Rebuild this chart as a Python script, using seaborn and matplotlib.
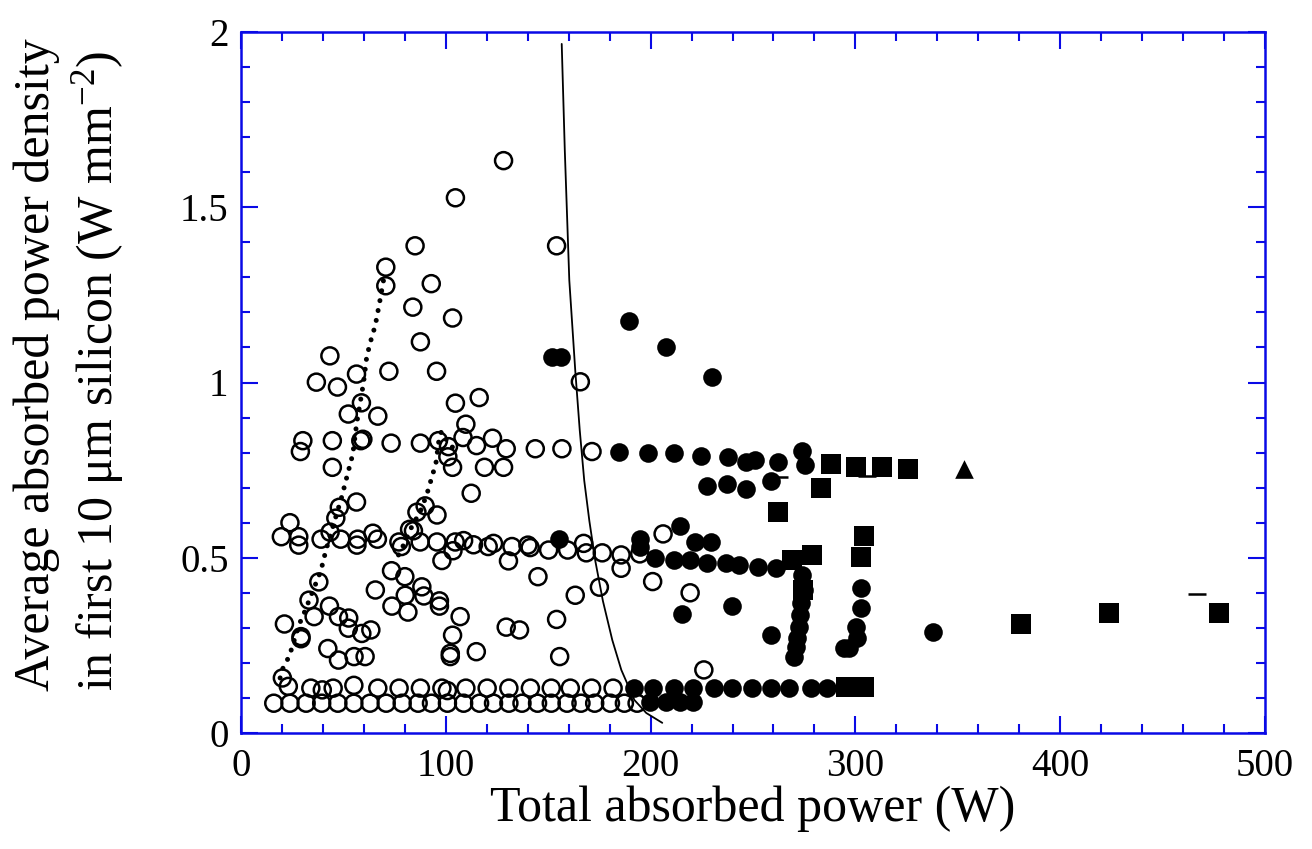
import numpy as np
import pandas as pd
import matplotlib
matplotlib.use("Agg")
import matplotlib.pyplot as plt
import seaborn as sns
from matplotlib.ticker import AutoMinorLocator

# ---------------- data ----------------
open_x = [128.2, 104.7, 85.0, 154.1, 70.7, 70.7, 92.9, 83.9, 103.3, 87.6, 43.4, 36.8, 47.1, 56.4, 72.2, 95.5,
          165.7, 58.8, 52.4, 66.8, 104.7, 116.3, 109.8,
          30.2, 29.0, 44.6, 58.5, 59.5, 73.3, 87.6, 96.4, 101.3, 101.0, 108.4, 115.0, 122.8, 129.5, 143.7,
          156.7, 171.4, 44.6, 103.3, 118.9, 128.2, 112.4,
          56.4, 48.0, 46.3, 23.9, 19.7, 28.2, 28.2, 39.1, 43.5, 48.7, 57.0, 56.6, 64.4, 66.6, 77.1, 78.3,
          82.3, 84.2, 85.9, 89.9, 95.7, 87.5, 95.7, 98.1, 103.5, 104.6, 108.7, 113.5, 120.7, 123.3, 132.3,
          130.6, 140.1, 141.2, 150.2, 159.5, 167.3, 168.6, 176.4, 185.6, 185.6, 194.7, 206.1, 201.0, 219.3,
          73.5, 80.0, 65.6, 88.3, 89.3, 80.2, 73.7, 81.5, 96.9, 96.9, 107.0, 103.3, 102.2, 102.2, 114.9,
          38.0, 33.2, 35.7, 43.2, 47.6, 52.6, 52.4, 59.0, 63.4, 21.2, 29.3, 29.3, 42.4, 47.6, 55.2, 60.6,
          20.2, 23.1, 145.0, 163.2, 175.0, 154.1, 129.5, 136.0, 155.6, 226.0,
          34.1, 39.7, 45.0, 55.1, 66.8, 77.2, 87.6, 98.1, 100.8, 109.8, 120.2, 130.8, 141.3, 151.5, 160.8,
          171.2, 181.7,
          16.0, 23.9, 31.8, 39.4, 47.3, 55.1, 63.0, 70.9, 78.7, 86.5, 93.0, 100.8, 108.7, 116.5, 123.3,
          130.8, 137.2, 144.8, 151.5, 159.2, 166.0, 172.7, 180.4, 187.2, 193.4]
open_y = [1.633, 1.527, 1.390, 1.390, 1.329, 1.276, 1.282, 1.215, 1.184, 1.116, 1.076, 1.001, 0.987, 1.024,
          1.032, 1.032, 1.002, 0.942, 0.910, 0.904, 0.941, 0.957, 0.881,
          0.834, 0.803, 0.834, 0.834, 0.838, 0.827, 0.827, 0.834, 0.817, 0.788, 0.843, 0.820, 0.841, 0.811,
          0.811, 0.811, 0.803, 0.758, 0.758, 0.758, 0.758, 0.684,
          0.659, 0.644, 0.613, 0.600, 0.560, 0.560, 0.536, 0.553, 0.573, 0.553, 0.553, 0.536, 0.570, 0.553,
          0.545, 0.532, 0.581, 0.577, 0.630, 0.648, 0.622, 0.545, 0.545, 0.492, 0.520, 0.545, 0.549, 0.537,
          0.532, 0.541, 0.532, 0.491, 0.536, 0.529, 0.522, 0.522, 0.541, 0.514, 0.514, 0.508, 0.470, 0.511,
          0.568, 0.432, 0.400,
          0.463, 0.446, 0.408, 0.417, 0.391, 0.393, 0.362, 0.345, 0.377, 0.362, 0.332, 0.279, 0.227, 0.218,
          0.232, 0.431, 0.379, 0.332, 0.362, 0.332, 0.328, 0.299, 0.284, 0.294, 0.311, 0.269, 0.275, 0.241,
          0.208, 0.218, 0.218, 0.157, 0.133, 0.446, 0.393, 0.416, 0.324, 0.302, 0.294, 0.218, 0.180,
          0.128, 0.123, 0.128, 0.136, 0.128, 0.128, 0.128, 0.128, 0.121, 0.128, 0.128, 0.128, 0.128, 0.128,
          0.128, 0.128, 0.128,
          0.085, 0.085, 0.085, 0.085, 0.085, 0.085, 0.085, 0.085, 0.085, 0.085, 0.085, 0.085, 0.085, 0.085,
          0.085, 0.085, 0.085, 0.085, 0.085, 0.085, 0.085, 0.085, 0.085, 0.085, 0.085]

filled_x = [151.9, 156.3, 189.3, 207.7, 229.9,
            184.4, 198.6, 211.6, 224.7, 237.7, 246.7, 250.9, 262.3, 274.0, 275.3,
            227.3, 237.5, 246.7, 258.6,
            155.4, 194.7, 194.7, 214.2, 221.9, 229.7,
            202.3, 211.3, 219.4, 227.6, 236.6, 243.1, 252.3, 261.0,
            215.4, 239.8, 258.6, 337.9,
            274.0, 274.8, 273.2, 272.9, 272.4, 271.6, 270.8, 270.0,
            302.5, 302.5, 300.1, 300.9, 296.8, 294.5,
            192.1, 201.2, 211.6, 220.8, 231.2, 239.8, 249.3, 258.6, 267.5, 278.2, 285.9,
            199.6, 207.4, 214.2, 220.8]
filled_y = [1.072, 1.072, 1.176, 1.100, 1.017,
            0.803, 0.798, 0.798, 0.790, 0.788, 0.772, 0.779, 0.774, 0.805, 0.765,
            0.705, 0.710, 0.695, 0.720,
            0.553, 0.553, 0.532, 0.591, 0.546, 0.546,
            0.498, 0.494, 0.494, 0.486, 0.486, 0.479, 0.474, 0.470,
            0.339, 0.362, 0.280, 0.287,
            0.451, 0.408, 0.370, 0.337, 0.303, 0.270, 0.246, 0.218,
            0.413, 0.356, 0.302, 0.270, 0.242, 0.242,
            0.128, 0.128, 0.128, 0.128, 0.128, 0.128, 0.128, 0.128, 0.128, 0.128, 0.128,
            0.089, 0.089, 0.089, 0.089]

square_x = [288.2, 300.1, 313.1, 325.9, 283.0, 262.3, 304.2, 302.5, 269.2, 278.9, 274.3,
            295.2, 304.0, 380.7, 423.9, 477.4]
square_y = [0.767, 0.760, 0.760, 0.752, 0.698, 0.631, 0.563, 0.503, 0.494, 0.508, 0.408,
            0.130, 0.130, 0.311, 0.342, 0.342]

tri_x = [353.0]
tri_y = [0.752]

dash_x = [262.5, 305.8, 466.8]
dash_y = [0.730, 0.733, 0.397]

curve_x = [156.6, 158.1, 160.3, 163.2, 165.4, 167.6, 170.1, 173.0, 176.7, 181.3, 185.7, 192.1, 197.9, 205.7]
curve_y = [1.966, 1.663, 1.292, 1.035, 0.864, 0.720, 0.605, 0.491, 0.377, 0.265, 0.180, 0.094, 0.057, 0.029]

dot1_x = [19.1, 20.7, 23.5, 28.5, 30.8, 39.0, 41.5, 49.2, 51.7, 54.6, 56.5, 59.8, 61.4, 63.9, 65.5, 67.6,
          69.6, 70.4]
dot1_y = [0.157, 0.189, 0.218, 0.311, 0.342, 0.463, 0.522, 0.674, 0.731, 0.796, 0.884, 0.998, 1.074, 1.131,
          1.161, 1.226, 1.292, 1.316]

dot2_x = [76.9, 80.2, 83.4, 87.5, 90.8, 92.4, 94.0, 95.3, 96.4, 97.8, 101.3, 106.2]
dot2_y = [0.508, 0.546, 0.589, 0.631, 0.682, 0.714, 0.746, 0.774, 0.827, 0.860, 0.827, 0.798]

xticks = [0, 100, 200, 300, 400, 500]
xtick_labels = ["0", "100", "200", "300", "400", "500"]
yticks = [0, 0.5, 1, 1.5, 2]
ytick_labels = ["0", "0.5", "1", "1.5", "2"]

# ---------------- style ----------------
sns.set_style("white")
plt.rcParams["font.family"] = ["Liberation Serif", "DejaVu Serif"]
plt.rcParams["mathtext.fontset"] = "custom"
plt.rcParams["mathtext.rm"] = "Liberation Serif"
plt.rcParams["mathtext.it"] = "Liberation Serif:italic"
plt.rcParams["text.color"] = "black"
plt.rcParams["axes.labelcolor"] = "black"

BLUE = "#0a0ae6"

fig = plt.figure(figsize=(13.12, 8.49), dpi=100)
ax = fig.add_axes([241 / 1312, 1 - 733 / 849, 1024 / 1312, 701 / 849])

df_open = pd.DataFrame({"x": open_x, "y": open_y})
df_filled = pd.DataFrame({"x": filled_x, "y": filled_y})
df_sq = pd.DataFrame({"x": square_x, "y": square_y})
df_tri = pd.DataFrame({"x": tri_x, "y": tri_y})
df_dash = pd.DataFrame({"x": dash_x, "y": dash_y})
df_curve = pd.DataFrame({"x": curve_x, "y": curve_y})
df_d1 = pd.DataFrame({"x": dot1_x, "y": dot1_y})
df_d2 = pd.DataFrame({"x": dot2_x, "y": dot2_y})

sns.lineplot(data=df_curve, x="x", y="y", sort=False, estimator=None, color="black", lw=1.3, ax=ax, zorder=2)
for d in (df_d1, df_d2):
    sns.lineplot(data=d, x="x", y="y", sort=False, estimator=None, color="black", lw=3.6,
                 ax=ax, zorder=2)
for line in ax.lines[1:]:
    line.set_linestyle((0, (0.01, 2.0)))
    line.set_dash_capstyle("round")
ax.lines[0].set_solid_joinstyle("round")

sns.scatterplot(data=df_open, x="x", y="y", marker="o", s=150, facecolors="none",
                edgecolor="black", linewidth=1.8, ax=ax, zorder=3)
sns.scatterplot(data=df_filled, x="x", y="y", marker="o", s=180, color="black",
                edgecolor="black", linewidth=0, ax=ax, zorder=3)
sns.scatterplot(data=df_sq, x="x", y="y", marker="s", s=190, color="black",
                edgecolor="black", linewidth=0, ax=ax, zorder=3)
sns.scatterplot(data=df_tri, x="x", y="y", marker="^", s=180, color="black",
                edgecolor="black", linewidth=0, ax=ax, zorder=3)
sns.scatterplot(data=df_dash, x="x", y="y", marker="_", s=170, color="black",
                linewidth=1.8, ax=ax, zorder=3)

ax.set_xlim(0, 500)
ax.set_ylim(0, 2)
ax.set_xticks(xticks)
ax.set_xticklabels(xtick_labels)
ax.set_yticks(yticks)
ax.set_yticklabels(ytick_labels)
ax.xaxis.set_minor_locator(AutoMinorLocator(5))
ax.yaxis.set_minor_locator(AutoMinorLocator(5))

for sp in ax.spines.values():
    sp.set_color(BLUE)
    sp.set_linewidth(1.8)
    sp.set_visible(True)

ax.tick_params(which="both", direction="in", color=BLUE, top=True, right=True,
               bottom=True, left=True, labelsize=28, labelcolor="black")
ax.tick_params(which="major", length=12, width=1.5)
ax.tick_params(which="minor", length=6.5, width=1.5)
ax.tick_params(axis="x", which="major", pad=11)
ax.tick_params(axis="y", which="major", pad=9)

ax.set_xlabel("Total absorbed power (W)", fontsize=36, labelpad=0, color="black")
ax.set_ylabel("Average absorbed power density\nin first 10 \u03bcm silicon (W mm$^{\\mathregular{-2}}$)",
              fontsize=36, multialignment="left", linespacing=1.25, color="black")
ax.yaxis.set_label_coords(-0.112, 0.525)

fig.savefig("out.png", dpi=100)
